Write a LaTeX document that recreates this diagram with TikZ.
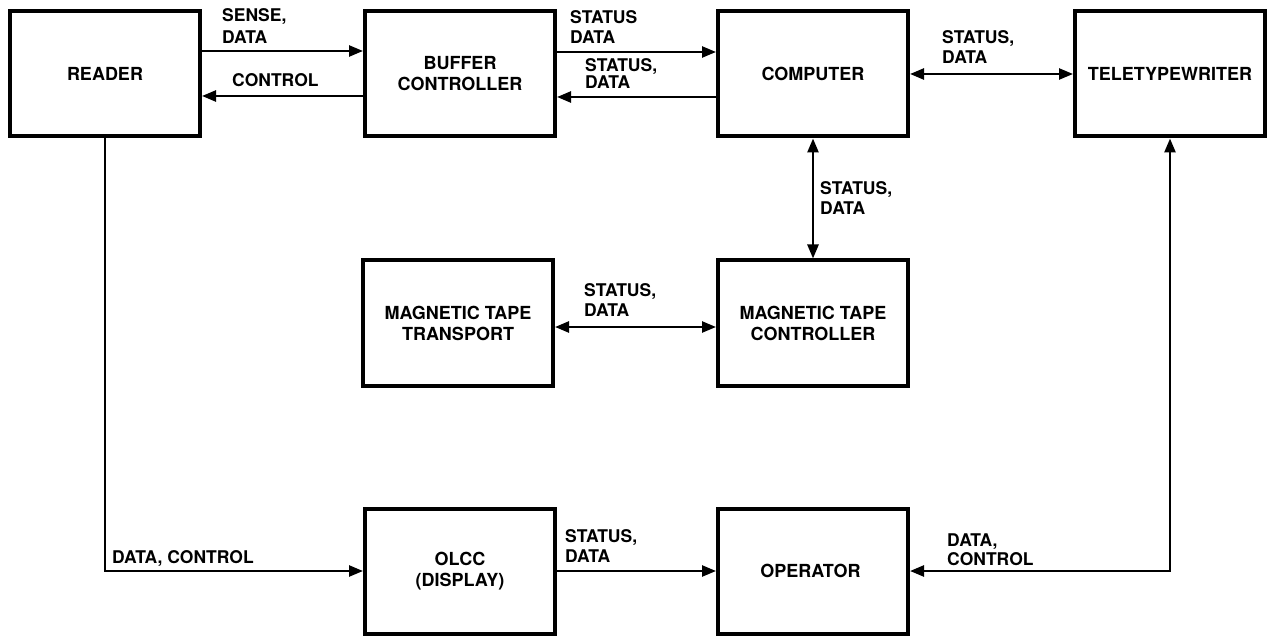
\documentclass[tikz,border=0pt]{standalone}
\usepackage{fontspec}
\setmainfont{TeX Gyre Heros}
\usetikzlibrary{arrows.meta,positioning}
\newcommand{\blkfont}{\fontsize{18}{21}\selectfont\bfseries}
\newcommand{\lblfont}{\fontsize{17.5}{20}\selectfont\bfseries}

\begin{document}
\begin{tikzpicture}[x=1pt, y=-1pt,
  blk/.style={draw, line width=4pt, minimum width=190pt, minimum height=125pt, align=center, font=\blkfont},
  lbl/.style={align=left, inner sep=0pt, anchor=south west, font=\lblfont},
  link/.style={line width=2.5pt, -{Triangle[length=14pt,width=11pt]}},
  both/.style={line width=2.5pt, {Triangle[length=14pt,width=11pt]}-{Triangle[length=14pt,width=11pt]}},
]
\useasboundingbox (0,0) rectangle (1268,636);

% blocks (pixel grid, y pointing down)
\foreach \nm/\x/\y/\txt in {
  rdr/105/74/{READER},
  buf/460/74/{BUFFER\\CONTROLLER},
  cpu/813/74/{COMPUTER},
  tty/1170/74/{TELETYPEWRITER},
  mtt/458/323/{MAGNETIC TAPE\\TRANSPORT},
  mtc/813/323/{MAGNETIC TAPE\\CONTROLLER},
  olcc/460/571/{OLCC\\(DISPLAY)},
  opr/813/571/{OPERATOR}
} {
  \node[blk] (\nm) at (\x,\y) {\txt};
}

% top row
\draw[link] ([yshift=23pt]rdr.east) -- ([yshift=23pt]buf.west);
\draw[link] ([yshift=-22pt]buf.west) -- ([yshift=-22pt]rdr.east);
\draw[link] ([yshift=22pt]buf.east) -- ([yshift=22pt]cpu.west);
\draw[link] ([yshift=-23pt]cpu.west) -- ([yshift=-23pt]buf.east);
\draw[both] (cpu.east) -- (tty.west);
\node[lbl, font=\fontsize{17.5}{22}\selectfont\bfseries] (l-sense) at (222,44) {SENSE,\\DATA};
\node[lbl, anchor=base west] (l-ctrl) at (232,87) {CONTROL};
\node[lbl] (l-sd1) at (570,44) {STATUS\\DATA};
\node[lbl, font=\fontsize{17.5}{15}\selectfont\bfseries] (l-sd2) at (585,89) {STATUS,\\DATA};
\node[lbl] (l-sd3) at (942,64) {STATUS,\\DATA};

% tape
\draw[both] (cpu.south) -- (mtc.north);
\draw[both] ([yshift=-4pt]mtt.east) -- ([yshift=-4pt]mtc.west);
\node[lbl] (l-sd4) at (820,215) {STATUS,\\DATA};
\node[lbl] (l-sd5) at (584,317) {STATUS,\\DATA};

% bottom row
\draw[link] (rdr.south) |- (olcc.west);
\draw[link] (olcc.east) -- (opr.west);
\draw[both] (opr.east) -| (tty.south);
\node[lbl, anchor=base west] (l-dc1) at (112,563) {DATA, CONTROL};
\node[lbl] (l-sd6) at (565,563) {STATUS,\\DATA};
\node[lbl, font=\fontsize{17.5}{19}\selectfont\bfseries] (l-dc2) at (947,566) {DATA,\\CONTROL};
\end{tikzpicture}
\end{document}
